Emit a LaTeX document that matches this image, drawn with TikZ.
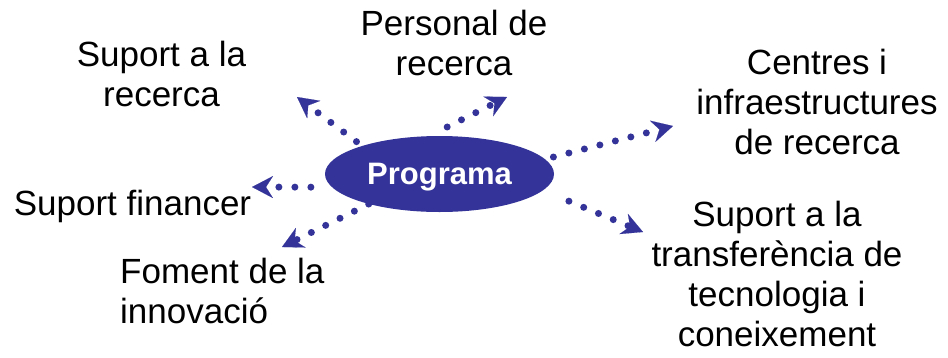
\documentclass[tikz,border=0pt]{standalone}
\usepackage{fontspec}
\setmainfont{Liberation Sans}
\usetikzlibrary{shapes.geometric,arrows.meta}
\definecolor{progblue}{RGB}{51,51,153}
\tikzset{
  lbl/.style={align=center, inner sep=0pt, font=\fontsize{35}{40}\selectfont},
  link/.style={progblue, line width=7pt, line cap=round, dash pattern=on 0pt off 16pt,
    -{Stealth[length=21pt,width=22pt,inset=7pt,line width=0.1pt]}}
}

\begin{document}
\begin{tikzpicture}[x=1pt,y=-1pt]
	\useasboundingbox (0,0) rectangle (948,357);
	\node (prog) at (439.5,174)[ellipse, fill=progblue, minimum width=229pt, minimum height=76pt, inner sep=0pt, text=white, text depth=0pt, font=\fontsize{31}{36}\selectfont\bfseries]{Programa};
	\node (suprec) at (161.5,106)[lbl, anchor=base]{Suport a la\\recerca};
	\node (pers) at (454,75)[lbl, anchor=base]{Personal de\\recerca};
	\node (centres) at (817,154)[lbl, anchor=base]{Centres i\\infraestructures\\de recerca};
	\node (fin) at (132.5,215)[lbl, anchor=base]{Suport financer};
	\node (foment) at (120,323.5)[lbl, align=left, anchor=base west]{Foment de la\\innovació};
	\node (transf) at (777,346)[lbl, anchor=base]{Suport a la\\transferència de\\tecnologia i\\coneixement};
	\coordinate (t1) at (297,97);
	\coordinate (t2) at (507,97);
	\coordinate (t3) at (673,126);
	\coordinate (t4) at (643,232);
	\coordinate (t5) at (252,187);
	\coordinate (t6) at (282,247);
	\draw[link, shorten <=7pt] (prog.160) -- (t1);
	\draw[link, shorten <=20pt] (prog.105) -- (t2);
	\draw[link, shorten <=8.5pt] (prog.8) -- (t3);
	\draw[link, shorten <=28pt] (prog.-9.6) -- (t4);
	\draw[link, shorten <=21pt] (prog.-173) -- (t5);
	\draw[link] (prog.-157) -- (t6);
\end{tikzpicture}
\end{document}
